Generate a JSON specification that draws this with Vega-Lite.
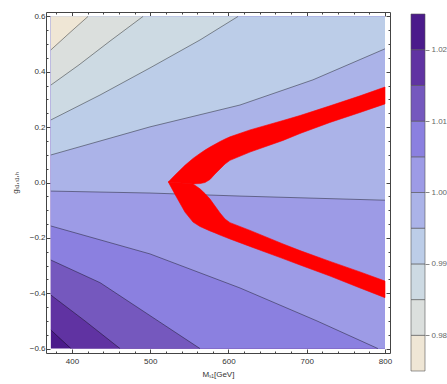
{
  "$schema": "https://vega.github.io/schema/vega-lite/v6.json",
  "padding": {"left": 10, "top": 11, "right": 0, "bottom": 0},
  "background": "white",
  "config": {
    "font": "Liberation Sans",
    "view": {"stroke": null},
    "axis": {"labelFont": "Liberation Sans", "titleFont": "Liberation Sans", "labelFontSize": 8, "titleFontSize": 8, "titleFontWeight": "normal", "labelColor": "#333", "titleColor": "#333", "tickColor": "#444", "grid": false, "domain": false, "labelOverlap": false, "labelFlush": false}
  },
  "datasets": {
    "base": [{"m0": 373, "m1": 800, "g0": -0.6, "g1": 0.6, "L": 1.025}],
    "contours": [
      {"L": 1.02, "M": 373, "g": -0.533, "e": 0},
      {"L": 1.02, "M": 398.7, "g": -0.6, "e": 0},
      {"L": 1.02, "M": 800, "g": -0.6, "e": 1},
      {"L": 1.015, "M": 373, "g": -0.4065, "e": 0},
      {"L": 1.015, "M": 416.6, "g": -0.5, "e": 0},
      {"L": 1.015, "M": 461.4, "g": -0.6, "e": 0},
      {"L": 1.015, "M": 800, "g": -0.6, "e": 1},
      {"L": 1.01, "M": 373, "g": -0.28, "e": 0},
      {"L": 1.01, "M": 436, "g": -0.362, "e": 0},
      {"L": 1.01, "M": 510, "g": -0.5, "e": 0},
      {"L": 1.01, "M": 563.6, "g": -0.6, "e": 0},
      {"L": 1.01, "M": 800, "g": -0.6, "e": 1},
      {"L": 1.005, "M": 373, "g": -0.157, "e": 0},
      {"L": 1.005, "M": 499.7, "g": -0.258, "e": 0},
      {"L": 1.005, "M": 614.7, "g": -0.381, "e": 0},
      {"L": 1.005, "M": 713, "g": -0.5, "e": 0},
      {"L": 1.005, "M": 791, "g": -0.6, "e": 0},
      {"L": 1.005, "M": 800, "g": -0.6, "e": 1},
      {"L": 1.0, "M": 373, "g": -0.031, "e": 0},
      {"L": 1.0, "M": 499.7, "g": -0.038, "e": 0},
      {"L": 1.0, "M": 614.7, "g": -0.049, "e": 0},
      {"L": 1.0, "M": 800, "g": -0.064, "e": 0},
      {"L": 0.995, "M": 373, "g": 0.0995, "e": 0},
      {"L": 0.995, "M": 499.7, "g": 0.201, "e": 0},
      {"L": 0.995, "M": 614.7, "g": 0.28, "e": 0},
      {"L": 0.995, "M": 708, "g": 0.371, "e": 0},
      {"L": 0.995, "M": 800, "g": 0.483, "e": 0},
      {"L": 0.99, "M": 373, "g": 0.226, "e": 0},
      {"L": 0.99, "M": 435.8, "g": 0.316, "e": 0},
      {"L": 0.99, "M": 499.7, "g": 0.414, "e": 0},
      {"L": 0.99, "M": 563.6, "g": 0.515, "e": 0},
      {"L": 0.99, "M": 612.2, "g": 0.6, "e": 0},
      {"L": 0.99, "M": 800, "g": 0.6, "e": 1},
      {"L": 0.985, "M": 373, "g": 0.352, "e": 0},
      {"L": 0.985, "M": 409, "g": 0.425, "e": 0},
      {"L": 0.985, "M": 448.6, "g": 0.511, "e": 0},
      {"L": 0.985, "M": 490.8, "g": 0.6, "e": 0},
      {"L": 0.985, "M": 800, "g": 0.6, "e": 1},
      {"L": 0.98, "M": 373, "g": 0.479, "e": 0},
      {"L": 0.98, "M": 397.5, "g": 0.542, "e": 0},
      {"L": 0.98, "M": 420.5, "g": 0.6, "e": 0},
      {"L": 0.98, "M": 800, "g": 0.6, "e": 1}
    ],
    "red": [
      {"arm": "u", "M": 523.1, "top": 0.002, "bot": 0.002},
      {"arm": "u", "M": 531.7, "top": 0.027, "bot": 0.0},
      {"arm": "u", "M": 544.4, "top": 0.062, "bot": -0.003},
      {"arm": "u", "M": 554.7, "top": 0.087, "bot": -0.005},
      {"arm": "u", "M": 563.6, "top": 0.105, "bot": -0.004},
      {"arm": "u", "M": 570, "top": 0.117, "bot": 0.0},
      {"arm": "u", "M": 576.4, "top": 0.128, "bot": 0.011},
      {"arm": "u", "M": 582.8, "top": 0.138, "bot": 0.031},
      {"arm": "u", "M": 589.2, "top": 0.148, "bot": 0.049},
      {"arm": "u", "M": 595.6, "top": 0.157, "bot": 0.067},
      {"arm": "u", "M": 601.9, "top": 0.165, "bot": 0.08},
      {"arm": "u", "M": 627.5, "top": 0.19, "bot": 0.11},
      {"arm": "u", "M": 669.7, "top": 0.224, "bot": 0.152},
      {"arm": "u", "M": 691.4, "top": 0.242, "bot": 0.177},
      {"arm": "u", "M": 729.7, "top": 0.277, "bot": 0.217},
      {"arm": "u", "M": 768.1, "top": 0.313, "bot": 0.253},
      {"arm": "u", "M": 800, "top": 0.345, "bot": 0.284},
      {"arm": "l", "M": 523.1, "top": 0.002, "bot": 0.002},
      {"arm": "l", "M": 531.7, "top": 0.0, "bot": -0.043},
      {"arm": "l", "M": 544.4, "top": -0.003, "bot": -0.107},
      {"arm": "l", "M": 554.7, "top": -0.005, "bot": -0.143},
      {"arm": "l", "M": 563.6, "top": -0.023, "bot": -0.159},
      {"arm": "l", "M": 570, "top": -0.04, "bot": -0.167},
      {"arm": "l", "M": 576.4, "top": -0.06, "bot": -0.175},
      {"arm": "l", "M": 582.8, "top": -0.085, "bot": -0.182},
      {"arm": "l", "M": 589.2, "top": -0.11, "bot": -0.19},
      {"arm": "l", "M": 595.6, "top": -0.132, "bot": -0.197},
      {"arm": "l", "M": 601.9, "top": -0.145, "bot": -0.204},
      {"arm": "l", "M": 627.5, "top": -0.173, "bot": -0.231},
      {"arm": "l", "M": 669.7, "top": -0.222, "bot": -0.275},
      {"arm": "l", "M": 691.4, "top": -0.246, "bot": -0.298},
      {"arm": "l", "M": 729.7, "top": -0.285, "bot": -0.338},
      {"arm": "l", "M": 768.1, "top": -0.323, "bot": -0.381},
      {"arm": "l", "M": 800, "top": -0.356, "bot": -0.416}
    ],
    "bar": [
      {"lo": 0.975, "hi": 0.98},
      {"lo": 0.98, "hi": 0.985},
      {"lo": 0.985, "hi": 0.99},
      {"lo": 0.99, "hi": 0.995},
      {"lo": 0.995, "hi": 1.0},
      {"lo": 1.0, "hi": 1.005},
      {"lo": 1.005, "hi": 1.01},
      {"lo": 1.01, "hi": 1.015},
      {"lo": 1.015, "hi": 1.02},
      {"lo": 1.02, "hi": 1.025}
    ]
  },
  "spacing": 17,
  "resolve": {"scale": {"color": "independent"}},
  "hconcat": [
    {
      "width": 344,
      "height": 341,
      "view": {"stroke": "#444", "strokeWidth": 1},
      "resolve": {"axis": {"x": "independent", "y": "independent"}},
      "layer": [
        {
          "data": {"name": "base"},
          "mark": {"type": "rect"},
          "encoding": {
            "x": {"field": "m0", "type": "quantitative", "scale": {"domain": [366.8, 806.4], "nice": false, "zero": false},
              "axis": {"orient": "bottom", "values": [380, 400, 420, 440, 460, 480, 500, 520, 540, 560, 580, 600, 620, 640, 660, 680, 700, 720, 740, 760, 780, 800], "format": "d",
                "labelExpr": "datum.value % 100 === 0 ? datum.label : ''",
                "tickSize": {"condition": {"test": "datum.value % 100 === 0", "value": -4}, "value": -2},
                "labelPadding": 8, "title": "Mₛ₁[GeV]", "titlePadding": 3}},
            "x2": {"field": "m1"},
            "y": {"field": "g0", "type": "quantitative", "scale": {"domain": [-0.616, 0.616], "nice": false, "zero": false},
              "axis": {"orient": "left", "values": [-0.6, -0.55, -0.5, -0.45, -0.4, -0.35, -0.3, -0.25, -0.2, -0.15, -0.1, -0.05, 0, 0.05, 0.1, 0.15, 0.2, 0.25, 0.3, 0.35, 0.4, 0.45, 0.5, 0.55, 0.6], "format": ".1f",
                "labelExpr": "abs(round(datum.value * 100)) % 20 === 0 ? datum.label : ''",
                "tickSize": {"condition": {"test": "abs(round(datum.value * 100)) % 20 === 0", "value": -4}, "value": -2},
                "labelPadding": 5, "title": "gₛ₁,ₛ₁,ₕ", "titlePadding": 10}},
            "y2": {"field": "g1"},
            "color": {"field": "L", "type": "ordinal", "legend": null,
              "scale": {"domain": [0.98, 0.985, 0.99, 0.995, 1.0, 1.005, 1.01, 1.015, 1.02, 1.025],
                "range": ["#efe6d5", "#dbdfdd", "#cddae3", "#bccde8", "#abb3e8", "#9d9be6", "#8b80e0", "#7558be", "#6033a2", "#4b1b8b"]}}
          }
        },
        {
          "data": {"name": "contours"},
          "mark": {"type": "area"},
          "encoding": {
            "x": {"field": "M", "type": "quantitative", "axis": null},
            "y": {"field": "g", "type": "quantitative", "axis": null, "stack": null},
            "y2": {"datum": 0.6},
            "color": {"field": "L", "type": "ordinal", "legend": null}
          }
        },
        {
          "data": {"name": "contours"},
          "transform": [{"filter": "datum.e == 0"}],
          "mark": {"type": "line", "color": "#000", "strokeWidth": 0.8, "opacity": 0.5},
          "encoding": {
            "x": {"field": "M", "type": "quantitative",
              "axis": {"orient": "top", "values": [380, 400, 420, 440, 460, 480, 500, 520, 540, 560, 580, 600, 620, 640, 660, 680, 700, 720, 740, 760, 780, 800], "labels": false, "title": null,
                "tickSize": {"condition": {"test": "datum.value % 100 === 0", "value": -4}, "value": -2}}},
            "y": {"field": "g", "type": "quantitative",
              "axis": {"orient": "right", "values": [-0.6, -0.55, -0.5, -0.45, -0.4, -0.35, -0.3, -0.25, -0.2, -0.15, -0.1, -0.05, 0, 0.05, 0.1, 0.15, 0.2, 0.25, 0.3, 0.35, 0.4, 0.45, 0.5, 0.55, 0.6], "labels": false, "title": null,
                "tickSize": {"condition": {"test": "abs(round(datum.value * 100)) % 20 === 0", "value": -4}, "value": -2}}},
            "detail": {"field": "L", "type": "nominal"}
          }
        },
        {
          "data": {"name": "red"},
          "mark": {"type": "area", "color": "#ff0000", "stroke": "#ff0000", "strokeWidth": 0.6, "opacity": 1},
          "encoding": {
            "x": {"field": "M", "type": "quantitative", "axis": null},
            "y": {"field": "top", "type": "quantitative", "axis": null, "stack": null},
            "y2": {"field": "bot"},
            "detail": {"field": "arm", "type": "nominal"}
          }
        }
      ]
    },
    {
      "width": 14,
      "height": 357,
      "view": {"stroke": null},
      "data": {"name": "bar"},
      "mark": {"type": "rect", "stroke": "#555", "strokeWidth": 0.6, "yOffset": 2, "y2Offset": 2},
      "encoding": {
        "y": {"field": "lo", "type": "quantitative", "scale": {"domain": [0.975, 1.025], "nice": false, "zero": false},
          "axis": {"orient": "right", "values": [0.98, 0.99, 1.0, 1.01, 1.02], "format": ".2f", "tickSize": 4, "tickOffset": 2, "tickColor": "#888", "labelColor": "#666", "title": null, "labelPadding": 2}},
        "y2": {"field": "hi"},
        "color": {"field": "hi", "type": "ordinal", "legend": null,
          "scale": {"domain": [0.98, 0.985, 0.99, 0.995, 1.0, 1.005, 1.01, 1.015, 1.02, 1.025],
            "range": ["#efe6d5", "#dbdfdd", "#cddae3", "#bccde8", "#abb3e8", "#9d9be6", "#8b80e0", "#7558be", "#6033a2", "#4b1b8b"]}}
      }
    }
  ]
}
